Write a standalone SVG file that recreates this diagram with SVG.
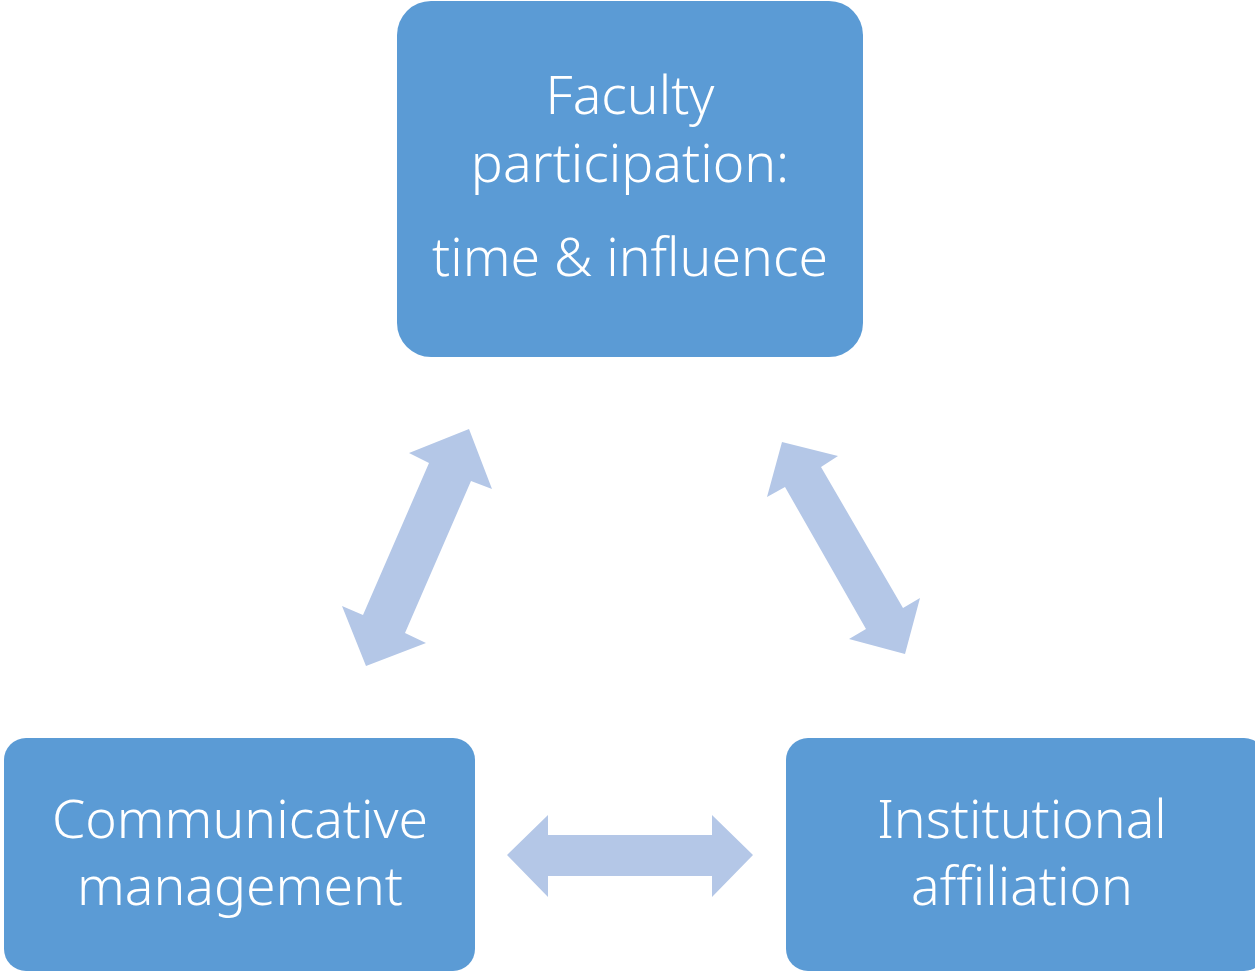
<svg xmlns="http://www.w3.org/2000/svg" width="1255" height="972" viewBox="0 0 1255 972">
  <style>
    .box { fill: #5b9bd5; }
    .lbl { fill: #ffffff; font-family: "Noto Sans", "Open Sans", "Liberation Sans", sans-serif; font-weight: 300; font-size: 53.5px; text-anchor: middle; }
    .link { fill: #b4c7e7; }
  </style>
  <rect width="1255" height="972" fill="#ffffff"/>

  <!-- double-headed connectors between the three nodes -->
  <g id="connectors">
    <polygon class="link" points="469,429 492,489 471,481 405,633 426,643 366,666 342,606 363,615 429,463 409,453"/>
    <polygon class="link" points="782,442 838,456 821,467 903,608 920,598 905,654 849,639 866,629 785,487 767,497"/>
    <polygon class="link" points="507,855 548,815 548,835 712,835 712,815 753,855 712,897 712,876 548,876 548,897"/>
  </g>

  <g id="faculty">
    <rect class="box" x="397" y="1" width="466" height="356" rx="34"/>
    <text class="lbl" x="630" y="114">Faculty</text>
    <text class="lbl" x="630" y="182">participation:</text>
    <text class="lbl" x="630" y="276">time &amp; influence</text>
  </g>

  <g id="communicative">
    <rect class="box" x="4" y="738" width="471" height="233" rx="22"/>
    <text class="lbl" x="240" y="838">Communicative</text>
    <text class="lbl" x="240" y="905">management</text>
  </g>

  <g id="institutional">
    <rect class="box" x="786" y="738" width="480" height="233" rx="22"/>
    <text class="lbl" x="1022" y="838">Institutional</text>
    <text class="lbl" x="1022" y="905">affiliation</text>
  </g>
</svg>
